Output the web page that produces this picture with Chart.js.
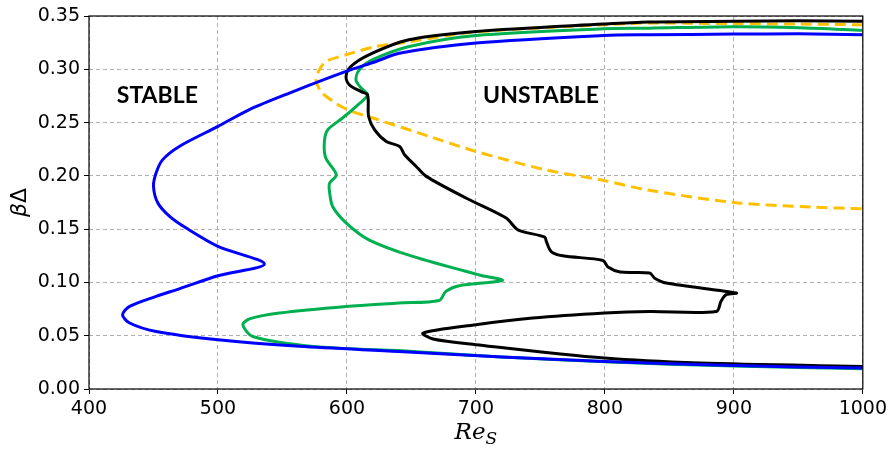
<!DOCTYPE html>
<html>
<head>
<meta charset="utf-8">
<script src="https://cdn.jsdelivr.net/npm/chart.js@4.4.1/dist/chart.umd.min.js"></script>
<style>
  html, body { margin: 0; padding: 0; background: #fff; }
  #wrap { width: 891px; height: 449px; position: relative; }
</style>
</head>
<body>
<div id="wrap"><canvas id="stabilityChart"></canvas></div>
<script>
// Curves, each traced from the top-right end (Re_S, beta*Delta)
const blueRe = [1000, 950, 900, 834, 799, 700, 640.5, 622.5, 599.3, 555.4, 524, 500, 470, 457, 452, 450, 453.4, 462.5, 475.4, 500, 536, 500, 470, 452, 431.5, 426, 431.5, 452, 500, 563, 640, 720, 800, 900, 1000];
const blueBD = [0.3325, 0.3333, 0.333, 0.3324, 0.3317, 0.3246, 0.315, 0.3073, 0.298, 0.2777, 0.262, 0.2464, 0.2276, 0.215, 0.2026, 0.19, 0.1745, 0.162, 0.151, 0.1338, 0.1173, 0.1063, 0.094, 0.0869, 0.0775, 0.0697, 0.0619, 0.054, 0.0462, 0.04, 0.0353, 0.03, 0.0259, 0.022, 0.0197];

const greenRe = [1000, 950, 900, 834, 799, 700, 648.3, 620, 609.6, 607, 611, 616, 607, 596.6, 585, 582.5, 583.5, 591.8, 586.5, 586.6, 589, 599.5, 617, 651, 702.8, 720.5, 687, 676.7, 671.5, 640, 599.5, 547.6, 525, 519.3, 527, 573.7, 651, 720, 800, 900, 1000];
const greenBD = [0.3366, 0.339, 0.34, 0.3386, 0.338, 0.3317, 0.3214, 0.309, 0.2995, 0.29, 0.2824, 0.276, 0.265, 0.2543, 0.243, 0.232, 0.217, 0.201, 0.193, 0.184, 0.171, 0.1557, 0.14, 0.1244, 0.107, 0.1019, 0.0969, 0.0916, 0.0831, 0.0807, 0.0775, 0.0713, 0.066, 0.0603, 0.0493, 0.04, 0.0353, 0.03, 0.0255, 0.0215, 0.019];

const blackRe = [1000, 950, 900, 834, 799, 700, 648, 617, 603, 599.3, 601.8, 611, 616, 616.8, 621.5, 630.5, 640.9, 644.7, 653.7, 661.5, 692.6, 723.5, 732.6, 753.3, 754.6, 758.4, 767.4, 798.5, 802.4, 811.8, 834.7, 838.6, 847.6, 901.9, 894, 890, 886.4, 834.7, 799.7, 744, 700, 659, 666.7, 700, 799.7, 873.5, 1000];
const blackBD = [0.345, 0.3455, 0.345, 0.3443, 0.3424, 0.3355, 0.3277, 0.3136, 0.3026, 0.2933, 0.2855, 0.279, 0.276, 0.2557, 0.2432, 0.2323, 0.2276, 0.2198, 0.2088, 0.1995, 0.179, 0.1604, 0.1494, 0.1426, 0.1385, 0.129, 0.125, 0.1206, 0.1144, 0.1097, 0.1088, 0.104, 0.0994, 0.09, 0.0885, 0.0822, 0.0728, 0.0728, 0.0713, 0.0666, 0.0603, 0.0525, 0.0469, 0.0416, 0.029, 0.0244, 0.0212];

const orangeRe = [1000, 950, 900, 834, 799, 700, 643, 622.5, 599.3, 583.8, 578.6, 576, 580, 589, 600.5, 620, 664, 700, 754, 800, 832, 900, 961, 1000];
const orangeBD = [0.3417, 0.3425, 0.3427, 0.3435, 0.3418, 0.335, 0.325, 0.3214, 0.3136, 0.3073, 0.2995, 0.29, 0.279, 0.27, 0.262, 0.2543, 0.237, 0.2229, 0.2057, 0.1955, 0.187, 0.175, 0.1707, 0.1691];

// Region labels (data coordinates of the text centre)
const regionLabels = ["STABLE", "UNSTABLE"];
const regionRe = [453, 750.5];
const regionBD = [0.275, 0.2755];

function toPoints(xs, ys) {
  return xs.map((x, i) => ({ x: x, y: ys[i] }));
}

function curve(xs, ys, color, dash) {
  return {
    data: toPoints(xs, ys),
    showLine: true,
    borderColor: color,
    borderWidth: 3,
    borderDash: dash || [],
    borderJoinStyle: "round",
    pointRadius: 0,
    tension: 0.3,
    fill: false,
  };
}

// Frame, region text and the mathtext-style axis titles
const decorPlugin = {
  id: "decor",
  afterDraw(chart) {
    const ctx = chart.ctx;
    const area = chart.chartArea;
    const xs = chart.scales.x;
    const ys = chart.scales.y;
    ctx.save();
    ctx.strokeStyle = "#000";
    ctx.lineWidth = 1.2;
    ctx.strokeRect(area.left, area.top, area.right - area.left, area.bottom - area.top);

    ctx.fillStyle = "#000";
    ctx.textAlign = "center";
    ctx.textBaseline = "middle";
    ctx.font = "bold 23px Lato";
    regionLabels.forEach((t, i) => {
      ctx.fillText(t, xs.getPixelForValue(regionRe[i]), ys.getPixelForValue(regionBD[i]));
    });

    // x title: Re_S
    ctx.textAlign = "left";
    ctx.textBaseline = "alphabetic";
    ctx.font = "italic 23px 'DejaVu Serif'";
    const cx = (area.left + area.right) / 2;
    const w1 = ctx.measureText("Re").width;
    ctx.font = "italic 17px 'DejaVu Serif'";
    const w2 = ctx.measureText("S").width;
    const x0 = cx - (w1 + w2) / 2;
    ctx.font = "italic 23px 'DejaVu Serif'";
    ctx.fillText("Re", x0, 439);
    ctx.font = "italic 17px 'DejaVu Serif'";
    ctx.fillText("S", x0 + w1, 444);

    // y title: beta Delta
    ctx.translate(20, (area.top + area.bottom) / 2);
    ctx.rotate(-Math.PI / 2);
    ctx.textAlign = "left";
    ctx.textBaseline = "middle";
    ctx.font = "italic 22px 'DejaVu Sans'";
    const wb = ctx.measureText("β").width;
    ctx.font = "22px 'DejaVu Sans'";
    const wd = ctx.measureText("Δ").width;
    ctx.font = "italic 22px 'DejaVu Sans'";
    ctx.fillText("β", -(wb + wd) / 2, 0);
    ctx.font = "22px 'DejaVu Sans'";
    ctx.fillText("Δ", -(wb + wd) / 2 + wb, 0);
    ctx.restore();
  },
};

const tickFont = { family: "'DejaVu Sans'", size: 19 };
const gridOpts = {
  color: "#b0b0b0",
  lineWidth: 1,
  borderDash: [4, 3],
  tickColor: "#000",
  tickLength: 5,
  tickBorderDash: [],
};

new Chart(document.getElementById("stabilityChart"), {
  type: "scatter",
  data: {
    datasets: [
      curve(blueRe, blueBD, "#0000ff"),
      curve(blackRe, blackBD, "#000000"),
      curve(greenRe, greenBD, "#00b050"),
      curve(orangeRe, orangeBD, "#ffc000", [11, 6]),
    ],
  },
  options: {
    responsive: true,
    maintainAspectRatio: false,
    animation: false,
    layout: { padding: { left: 0, top: 16, right: 27, bottom: 0 } },
    plugins: {
      legend: { display: false },
      tooltip: { enabled: false },
    },
    scales: {
      x: {
        type: "linear",
        min: 400,
        max: 1000,
        ticks: {
          stepSize: 100,
          color: "#000",
          font: tickFont,
          padding: 4,
          maxRotation: 0,
          callback: (v) => String(v),
        },
        grid: gridOpts,
        border: { display: false, dash: [4, 3] },
        afterFit: (scale) => { scale.height = 60; },
      },
      y: {
        type: "linear",
        min: 0,
        max: 0.35,
        ticks: {
          stepSize: 0.05,
          color: "#000",
          font: tickFont,
          padding: 4,
          callback: (v) => v.toFixed(2),
        },
        grid: gridOpts,
        border: { display: false, dash: [4, 3] },
        afterFit: (scale) => { scale.width = 89; },
      },
    },
  },
  plugins: [decorPlugin],
});
</script>
</body>
</html>
